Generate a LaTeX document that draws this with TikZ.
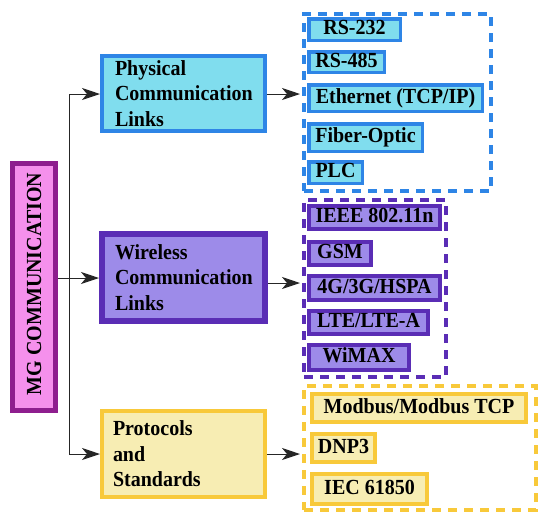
\documentclass[tikz,border=0pt]{standalone}
\usepackage{fontspec}
\setmainfont{Liberation Serif}
\newfontfamily\dfont[FakeStretch=0.93]{Liberation Serif}
\usetikzlibrary{arrows.meta}
\definecolor{cyanfill}{HTML}{80DDEE}
\definecolor{blueline}{HTML}{2E85E6}
\definecolor{purplefill}{HTML}{9D8BE9}
\definecolor{purpleline}{HTML}{5A2DB5}
\definecolor{yellowfill}{HTML}{F7EDB3}
\definecolor{yellowline}{HTML}{F8C93A}
\definecolor{pinkfill}{HTML}{F590EC}
\definecolor{magline}{HTML}{8E1E8E}
\begin{document}
\begin{tikzpicture}[x=1pt,y=-1pt,
  every node/.style={font=\dfont\bfseries\fontsize{21.5}{25.5}\selectfont},
  itembox/.style={draw, rectangle, inner sep=0pt, text height=14pt, text depth=4pt},
  itemB/.style={itembox, fill=cyanfill, draw=blueline, line width=3.5pt},
  itemP/.style={itembox, fill=purplefill, draw=purpleline, line width=4pt},
  itemY/.style={itembox, fill=yellowfill, draw=yellowline, line width=4pt},
  catbox/.style={draw, rectangle, inner sep=0pt, align=left, text width=137pt},
  grp/.style={draw, rectangle, inner sep=0pt, line width=4pt, dash pattern=on 9pt off 7pt},
  arr/.style={draw=black!85, line width=1pt, -{Stealth[length=18pt,width=12pt,inset=5pt]}},
  ln/.style={draw=black!85, line width=1pt}
]
\useasboundingbox (0,0) rectangle (550,523);

% main box
\node[draw=magline, fill=pinkfill, line width=5pt, minimum width=43pt, minimum height=247pt, inner sep=0pt] (mg) at (34,287) {};
\node[rotate=90] (mgt) at (34,284) {MG COMMUNICATION};

% category boxes
\node[catbox, fill=cyanfill, draw=blueline, line width=4pt, minimum width=163pt, minimum height=75pt] (phys) at (183.5,93.5) {Physical\\Communication\\Links};
\node[catbox, fill=purplefill, draw=purpleline, line width=6pt, minimum width=163pt, minimum height=87pt] (wire) at (183.5,277.5) {Wireless\\Communication\\Links};
\node[catbox, fill=yellowfill, draw=yellowline, line width=4pt, minimum width=163pt, minimum height=86pt, text width=141pt] (prot) at (183.5,454) {Protocols\\and\\Standards};

% groups
\node[grp, draw=blueline, minimum width=187pt, minimum height=177pt] (gB) at (397.5,102.5) {};
\node[grp, draw=purpleline, minimum width=142pt, minimum height=177pt] (gP) at (375,288.5) {};
\node[grp, draw=yellowline, minimum width=232pt, minimum height=124pt] (gY) at (420,448) {};

% blue items
\node[itemB, minimum width=91.5pt, minimum height=21.5pt] (rs232) at (354.5,29.5) {RS-232};
\node[itemB, minimum width=75.5pt, minimum height=20.5pt] (rs485) at (346.5,62) {RS-485};
\node[itemB, minimum width=173.5pt, minimum height=26.5pt] (eth) at (395.5,98) {Ethernet (TCP/IP)};
\node[itemB, minimum width=113.5pt, minimum height=27.5pt] (fiber) at (365.5,137.5) {Fiber-Optic};
\node[itemB, minimum width=53.5pt, minimum height=21.5pt] (plc) at (335.5,172.5) {PLC};

% purple items
\node[itemP, minimum width=131pt, minimum height=23pt] (ieee) at (374.5,217.5) {IEEE 802.11n};
\node[itemP, minimum width=62pt, minimum height=23pt] (gsm) at (340,253.5) {GSM};
\node[itemP, minimum width=131pt, minimum height=24pt] (hspa) at (374.5,288) {4G/3G/HSPA};
\node[itemP, minimum width=119pt, minimum height=23pt] (lte) at (368.5,322.5) {LTE/LTE-A};
\node[itemP, minimum width=100pt, minimum height=25pt] (wimax) at (359,357.5) {WiMAX};

% yellow items
\node[itemY, minimum width=214pt, minimum height=28pt] (modbus) at (419,408) {Modbus/Modbus TCP};
\node[itemY, minimum width=63pt, minimum height=28pt] (dnp) at (343.5,448) {DNP3};
\node[itemY, minimum width=115pt, minimum height=30pt] (iec) at (369.5,489) {IEC 61850};

% connectors
\coordinate (tTop) at (69,94);
\coordinate (tMid) at (69,278);
\coordinate (tBot) at (69,454);
\draw[ln] (tTop) -- (tBot);
\draw[ln] (mg.east |- tMid) -- (tMid);
\draw[arr] (tTop) -- (tTop -| phys.west);
\draw[arr] (tMid) -- (tMid -| wire.west);
\draw[arr] (tBot) -- (tBot -| prot.west);

\coordinate (pOut) at (267,94);
\coordinate (wOut) at (268,283);
\coordinate (yOut) at (267,454);
\draw[arr] (pOut) -- ([xshift=-2pt]pOut -| gB.west);
\draw[arr] (wOut) -- ([xshift=-2pt]wOut -| gP.west);
\draw[arr] (yOut) -- ([xshift=-2pt]yOut -| gY.west);
\end{tikzpicture}
\end{document}
